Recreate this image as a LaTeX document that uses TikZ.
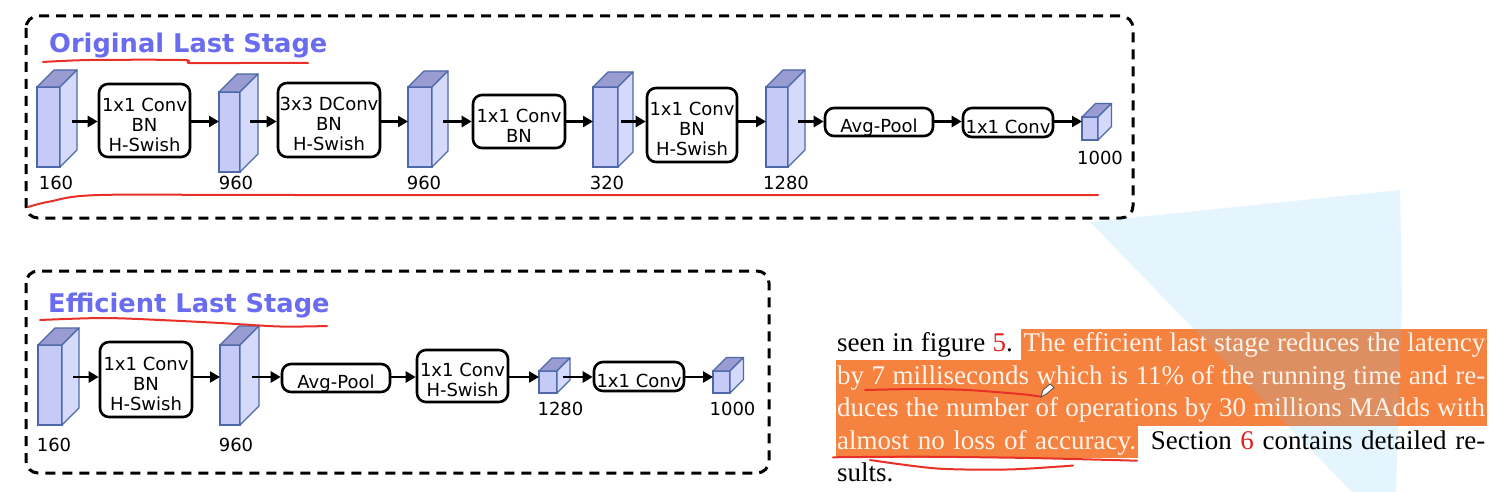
\documentclass[tikz,border=0pt]{standalone}
\usepackage{fontspec}
\setmainfont{Liberation Serif}
\newfontfamily\dv{DejaVu Sans}
\usetikzlibrary{arrows.meta,calc}
\definecolor{titleblue}{RGB}{106,108,240}
\definecolor{cubefrc}{RGB}{197,202,247}
\definecolor{cubesidec}{RGB}{214,218,250}
\definecolor{cubetopc}{RGB}{152,156,208}
\definecolor{cubeline}{RGB}{78,105,170}
\definecolor{penred}{RGB}{232,48,40}
\definecolor{refred}{RGB}{226,30,30}
\definecolor{hlorange}{RGB}{246,130,64}
\definecolor{hltext}{RGB}{255,244,236}
\definecolor{glow}{RGB}{115,204,247}
\tikzset{
  opbox/.style={draw, line width=2.6pt, rounded corners=9pt, inner sep=0pt, fill=white,
    font=\dv\fontsize{18}{20}\selectfont},
  cubefr/.style={draw=cubeline, fill=cubefrc, line width=1.3pt, inner sep=0pt, outer sep=0pt},
  cubeedge/.style={draw=cubeline, line width=1.3pt, line join=round},
  arr/.style={line width=2.6pt, -{Triangle[length=10pt,width=11pt]}},
  lbl/.style={font=\dv\fontsize{18}{20}\selectfont, inner sep=0pt},
  dashbox/.style={draw, line width=3pt, dash pattern=on 10pt off 7pt, rounded corners=12pt},
  redline/.style={draw=penred, line width=2pt, line cap=round, line join=round},
  stagetitle/.style={font=\dv\bfseries\fontsize{25.7}{30}\selectfont, text=titleblue, inner sep=0pt},
  para/.style={font=\fontsize{27}{32.6}\selectfont, inner sep=0pt, anchor=base west},
}
\newcommand\mycube[6]{%
  \node[cubefr, minimum width=#4pt, minimum height=#5pt] (#1) at (#2,#3) {};
  \draw[cubeedge, fill=cubetopc] (#1.north west) -- ++(#6,-#6) -- ++(#4,0) -- (#1.north east) -- cycle;
  \draw[cubeedge, fill=cubesidec] (#1.north east) -- ++(#6,-#6) -- ++(0,#5) -- (#1.south east) -- cycle;
}
\newcommand\boxtext[1]{\raisebox{-11pt}[0pt][0pt]{\setbox\strutbox=\hbox{\vrule height14pt depth6pt width0pt}\begin{tabular}{@{}c@{}}#1\end{tabular}}}
\begin{document}
\begin{tikzpicture}[x=1pt,y=-1pt]
\useasboundingbox (0,0) rectangle (1499,492);
\fill[white] (0,0) rectangle (1499,492);

% frames
\draw[dashbox] (26,16) rectangle (1133,218);
\draw[dashbox] (26,271) rectangle (769,473);

% titles
\node[stagetitle, anchor=base west] (ttitle) at (49,53) {Original Last Stage};
\node[stagetitle, anchor=base west] (btitle) at (48,312) {Efficient Last Stage};

\coordinate (rowT) at (0,121.5);
\coordinate (rowB) at (0,377);

% ---------- top row ----------
\mycube{t1}{48.5}{127}{23}{80}{17}
\mycube{t2}{229.5}{132}{21}{80}{18}
\mycube{t3}{420}{127}{24}{80}{16}
\mycube{t4}{605.5}{127}{25}{80}{15}
\mycube{t5}{777}{127}{22}{80}{17}
\mycube{t6}{1090}{128.5}{16}{23}{13.5}

\node[opbox, minimum width=91pt, minimum height=73pt] (oa) at (144.5,120.5) {\boxtext{1x1 Conv\\BN\\H-Swish}};
\node[opbox, minimum width=102pt, minimum height=74pt] (ob) at (329,120) {\boxtext{3x3 DConv\\BN\\H-Swish}};
\node[opbox, minimum width=92pt, minimum height=53pt] (oc) at (519,121.5) {\boxtext{1x1 Conv\\BN}};
\node[opbox, minimum width=90pt, minimum height=74pt] (od) at (692,125) {\boxtext{1x1 Conv\\BN\\H-Swish}};
\node[opbox, minimum width=108pt, minimum height=28pt] (oe) at (879,122) {\boxtext{Avg-Pool}};
\node[opbox, minimum width=90pt, minimum height=29pt] (of) at (1008,122.5) {\boxtext{1x1 Conv}};

\node[lbl] (t1l) at (56,183) {160};
\node[lbl] (t2l) at (236,183) {960};
\node[lbl] (t3l) at (424,183) {960};
\node[lbl] (t4l) at (607,183) {320};
\node[lbl] (t5l) at (786,183) {1280};
\node[lbl] (t6l) at (1100,158) {1000};

\draw[arr] ($(t1.east |- rowT)+(12,0)$) -- (oa.west |- rowT);
\draw[arr] (oa.east |- rowT) -- (t2.west |- rowT);
\draw[arr] ($(t2.east |- rowT)+(10,0)$) -- (ob.west |- rowT);
\draw[arr] (ob.east |- rowT) -- (t3.west |- rowT);
\draw[arr] ($(t3.east |- rowT)+(11,0)$) -- (oc.west |- rowT);
\draw[arr] (oc.east |- rowT) -- (t4.west |- rowT);
\draw[arr] ($(t4.east |- rowT)+(3,0)$) -- (od.west |- rowT);
\draw[arr] (od.east |- rowT) -- (t5.west |- rowT);
\draw[arr] ($(t5.east |- rowT)+(10,0)$) -- (oe.west |- rowT);
\draw[arr] (oe.east |- rowT) -- (of.west |- rowT);
\draw[arr] (of.east |- rowT) -- (t6.west |- rowT);

% ---------- bottom row ----------
\mycube{b1}{50}{385}{24}{80}{17}
\mycube{b2}{230}{385}{20}{80}{19}
\mycube{b3}{548}{382}{18}{22}{13}
\mycube{b4}{721.5}{382}{17}{22}{13.5}

\node[opbox, minimum width=92pt, minimum height=75pt] (ea) at (146,379.5) {\boxtext{1x1 Conv\\BN\\H-Swish}};
\node[opbox, minimum width=108pt, minimum height=28pt] (eb) at (336,378) {\boxtext{Avg-Pool}};
\node[opbox, minimum width=91pt, minimum height=52pt] (ec) at (462.5,376) {\boxtext{1x1 Conv\\H-Swish}};
\node[opbox, minimum width=90pt, minimum height=29pt] (ed) at (639,376.5) {\boxtext{1x1 Conv}};

\node[lbl] (b1l) at (54,445) {160};
\node[lbl] (b2l) at (236,445) {960};
\node[lbl] (b3l) at (560.5,409) {1280};
\node[lbl] (b4l) at (732.5,409) {1000};

\draw[arr] ($(b1.east |- rowB)+(11,0)$) -- (ea.west |- rowB);
\draw[arr] (ea.east |- rowB) -- (b2.west |- rowB);
\draw[arr] ($(b2.east |- rowB)+(12,0)$) -- (eb.west |- rowB);
\draw[arr] (eb.east |- rowB) -- (ec.west |- rowB);
\draw[arr] (ec.east |- rowB) -- (b3.west |- rowB);
\draw[arr] ($(b3.east |- rowB)+(6,0)$) -- (ed.west |- rowB);
\draw[arr] (ed.east |- rowB) -- (b4.west |- rowB);

% ---------- paragraph ----------
\fill[hlorange] (1021,329) rectangle (1487,360);
\fill[hlorange] (836,360) rectangle (1487,426);
\fill[hlorange] (836,426) rectangle (1138,458);
\fill[glow, opacity=0.18] (1090,222) -- (1400,190) -- (1402,300) -- (1396,492) -- (1352,492) -- cycle;

\node[para] (l1) at (837,351.5) {\makebox[648pt][s]{seen in figure \textcolor{refred}{5}. \textcolor{hltext}{The efficient last stage reduces the latency}}};
\node[para] (l2) at (837,384.1) {\makebox[648pt][s]{\color{hltext}by 7 milliseconds which is 11\% of the running time and re-}};
\node[para] (l3) at (837,416.7) {\makebox[648pt][s]{\color{hltext}duces the number of operations by 30 millions MAdds with}};
\node[para] (l4) at (837,449.3) {\makebox[648pt][s]{\textcolor{hltext}{almost no loss of accuracy.} Section \textcolor{refred}{6} contains detailed re-}};
\node[para] (l5) at (837,481.9) {sults.};

% ---------- hand-drawn red marks ----------
\draw[redline] plot[smooth] coordinates {(43,62) (90,60) (183,60) (190,63) (240,63) (308,63)};
\draw[redline] plot[smooth] coordinates {(40,320) (103,318) (160,320) (220,323) (280,326.5) (327,326)};
\draw[redline] plot[smooth] coordinates {(28,207) (50,201.5) (100,195) (300,195) (1098,195)};
\draw[redline] plot[smooth] coordinates {(865,390) (920,389) (967,390) (1020,394) (1040,396.5)};
\draw[redline] plot[smooth] coordinates {(833,457.3) (920,456.7) (1030,458) (1137,460.7)};
\draw[redline] plot[smooth] coordinates {(870,460) (937,468.5) (1007,469.5) (1060,466.5) (1073,465.5)};

% pen cursor
\draw[fill=white, line width=0.8pt, draw=black!70] (1041,397) -- (1043,390) -- (1050,384) -- (1054,387.5) -- (1047,393.5) -- cycle;
\end{tikzpicture}
\end{document}
